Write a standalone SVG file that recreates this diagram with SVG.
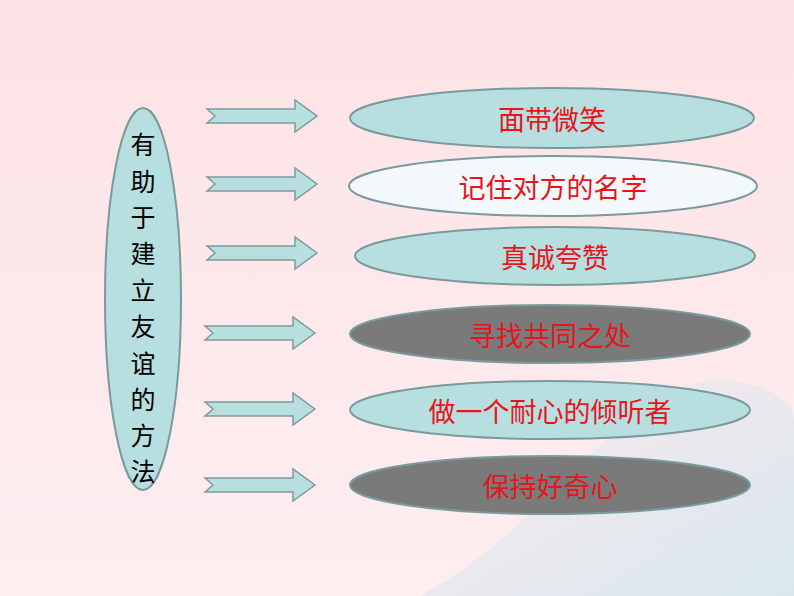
<svg xmlns="http://www.w3.org/2000/svg" width="794" height="596" viewBox="0 0 794 596">
<defs>
<linearGradient id="bg" x1="0" y1="0" x2="0" y2="1"><stop offset="0" stop-color="#fde2e5"/><stop offset="1" stop-color="#fdeef0"/></linearGradient>
<linearGradient id="wave" x1="0" y1="0" x2="1" y2="1"><stop offset="0" stop-color="#fbe9ec"/><stop offset="1" stop-color="#cfe6ee"/></linearGradient>
<path id="arr" d="M0,-7 L88,-7 L88,-16 L110,0 L88,16 L88,7 L0,7 L8,0 Z"/>
</defs>
<style>
.n{stroke:#7a9a9e;stroke-width:2}
.lt{fill:#b7dfe0}.wh{fill:#f3f9fa}.dk{fill:#7a7a7a}
.a{fill:#b7dfe0;stroke:#7f9a9c;stroke-width:1.5}
.t{font-family:"Noto Sans CJK SC",sans-serif;font-size:27px;fill:#e8141c;text-anchor:middle;dominant-baseline:central}
.v{font-family:"Noto Sans CJK SC",sans-serif;font-size:25px;fill:#000;text-anchor:middle;dominant-baseline:central}
</style>
<rect width="794" height="596" fill="url(#bg)"/>
<path d="M420,596 C560,520 620,380 720,380 C760,380 794,400 794,420 L794,596 Z" fill="url(#wave)" opacity="0.8"/>
<g id="left"><ellipse class="n lt" cx="143" cy="299" rx="38" ry="191"/>
<text class="v" x="143" y="143">有</text><text class="v" x="143" y="180">助</text><text class="v" x="143" y="216">于</text><text class="v" x="143" y="252">建</text><text class="v" x="143" y="289">立</text><text class="v" x="143" y="325">友</text><text class="v" x="143" y="362">谊</text><text class="v" x="143" y="398">的</text><text class="v" x="143" y="434">方</text><text class="v" x="143" y="470">法</text></g>
<g id="connectors">
<use href="#arr" class="a" transform="translate(207,116)"/>
<use href="#arr" class="a" transform="translate(207,184)"/>
<use href="#arr" class="a" transform="translate(207,253)"/>
<use href="#arr" class="a" transform="translate(205,333)"/>
<use href="#arr" class="a" transform="translate(205,409)"/>
<use href="#arr" class="a" transform="translate(205,485)"/>
</g>
<g id="n1"><ellipse class="n lt" cx="552" cy="118" rx="202" ry="30"/><text class="t" x="552" y="118">面带微笑</text></g>
<g id="n2"><ellipse class="n wh" cx="553" cy="186" rx="204" ry="30"/><text class="t" x="553" y="186">记住对方的名字</text></g>
<g id="n3"><ellipse class="n lt" cx="555" cy="256" rx="200" ry="29"/><text class="t" x="555" y="256">真诚夸赞</text></g>
<g id="n4"><ellipse class="n dk" cx="550" cy="334" rx="200" ry="29"/><text class="t" x="550" y="334">寻找共同之处</text></g>
<g id="n5"><ellipse class="n lt" cx="550" cy="410" rx="200" ry="29"/><text class="t" x="550" y="410">做一个耐心的倾听者</text></g>
<g id="n6"><ellipse class="n dk" cx="550" cy="485" rx="200" ry="29"/><text class="t" x="550" y="485">保持好奇心</text></g>
</svg>
